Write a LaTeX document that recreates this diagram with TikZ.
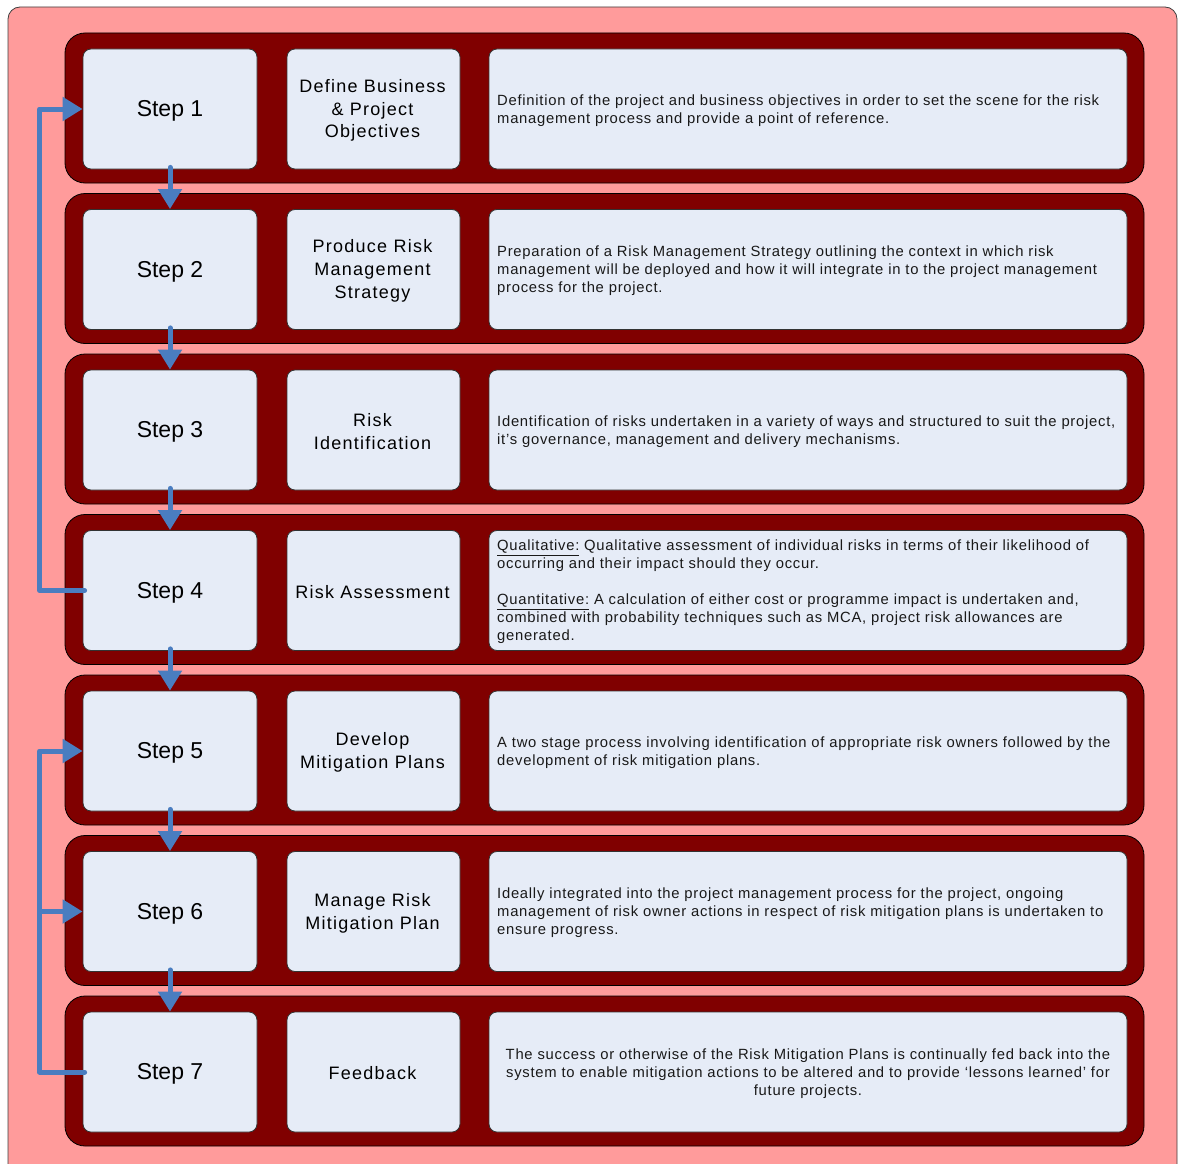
\documentclass[tikz,border=0pt]{standalone}
\usepackage{fontspec}
\setmainfont{Liberation Sans}
\newfontfamily\stepfont{Liberation Sans}
\newfontfamily\midfont[LetterSpace=7]{Liberation Sans}
\newfontfamily\descfont[LetterSpace=5]{Liberation Sans}
\usetikzlibrary{arrows.meta}
\definecolor{pinkbg}{RGB}{255,155,155}
\definecolor{rowred}{RGB}{128,0,0}
\definecolor{boxfill}{RGB}{230,236,247}
\definecolor{flowblue}{RGB}{74,125,192}
\tikzset{
  rowbox/.style={draw=black, line width=0.8pt, fill=rowred, rounded corners=20pt,
    minimum width=1079pt, minimum height=150pt, inner sep=0pt},
  panel/.style={draw=black!80, line width=0.8pt, fill=boxfill, rounded corners=8pt,
    minimum height=120pt, inner sep=0pt},
  stepbox/.style={panel, minimum width=174pt},
  midbox/.style={panel, minimum width=173pt},
  descbox/.style={panel, minimum width=638pt},
  steptext/.style={inner sep=0pt, font=\stepfont\fontsize{23}{28}\selectfont},
  midtext/.style={inner sep=0pt, align=center, font=\midfont\fontsize{18}{22.8}\selectfont},
  desc/.style={inner sep=0pt, align=left, text=black!90,
    font=\descfont\fontsize{14.8}{18}\selectfont},
  flow/.style={draw=flowblue, line width=5pt, line cap=round, line join=round,
    -{Triangle[width=23pt,length=20pt]}}
}
\begin{document}
\begin{tikzpicture}[x=1pt,y=-1pt]
\useasboundingbox (0,0) rectangle (1178,1164);
\begin{scope}
\clip (0,0) rectangle (1178,1164);
\draw[fill=pinkbg, draw=black!75, line width=0.8pt, rounded corners=12pt] (8,7) rectangle (1177,1200);
\end{scope}

% rows
\node[rowbox] (r1) at (604.5,108) {};
\node[rowbox] (r2) at (604.5,268.5) {};
\node[rowbox] (r3) at (604.5,429) {};
\node[rowbox] (r4) at (604.5,589.5) {};
\node[rowbox] (r5) at (604.5,750) {};
\node[rowbox] (r6) at (604.5,910.5) {};
\node[rowbox] (r7) at (604.5,1071) {};

% step boxes
\node[stepbox] (s1) at (170,109) {};
\node[stepbox] (s2) at (170,269.5) {};
\node[stepbox] (s3) at (170,430) {};
\node[stepbox] (s4) at (170,590.5) {};
\node[stepbox] (s5) at (170,751) {};
\node[stepbox] (s6) at (170,911.5) {};
\node[stepbox] (s7) at (170,1072) {};
\node[steptext] (s1l) at (170,111) {Step 1};
\node[steptext] (s2l) at (170,271.5) {Step 2};
\node[steptext] (s3l) at (170,432) {Step 3};
\node[steptext] (s4l) at (170,592.5) {Step 4};
\node[steptext] (s5l) at (170,753) {Step 5};
\node[steptext] (s6l) at (170,913.5) {Step 6};
\node[steptext] (s7l) at (170,1074) {Step 7};

% middle boxes
\node[midbox] (m1) at (373.5,109) {};
\node[midbox] (m2) at (373.5,269.5) {};
\node[midbox] (m3) at (373.5,430) {};
\node[midbox] (m4) at (373.5,590.5) {};
\node[midbox] (m5) at (373.5,751) {};
\node[midbox] (m6) at (373.5,911.5) {};
\node[midbox] (m7) at (373.5,1072) {};
\node[midtext] (m1l) at (372.5,110.5) {Define Business\\\& Project\\Objectives};
\node[midtext] (m2l) at (372.5,271) {Produce Risk\\Management\\Strategy};
\node[midtext] (m3l) at (372.5,431.5) {Risk\\Identification};
\node[midtext] (m4l) at (372.5,592) {Risk Assessment};
\node[midtext] (m5l) at (372.5,752.5) {Develop\\Mitigation Plans};
\node[midtext] (m6l) at (372.5,913) {Manage Risk\\Mitigation Plan};
\node[midtext] (m7l) at (372.5,1073.5) {Feedback};

% description boxes
\node[descbox] (d1) at (808,109) {};
\node[descbox] (d2) at (808,269.5) {};
\node[descbox] (d3) at (808,430) {};
\node[descbox] (d4) at (808,590.5) {};
\node[descbox] (d5) at (808,751) {};
\node[descbox] (d6) at (808,911.5) {};
\node[descbox] (d7) at (808,1072) {};

\node[desc, anchor=west] (t1) at (497,110.5) {Definition of the project and business objectives in order to set the scene for the risk\\management process and provide a point of reference.};
\node[desc, anchor=west] (t2) at (497,271) {Preparation of a Risk Management Strategy outlining the context in which risk\\management will be deployed and how it will integrate in to the project management\\process for the project.};
\node[desc, anchor=west] (t3) at (497,431.5) {Identification of risks undertaken in a variety of ways and structured to suit the project,\\it’s governance, management and delivery mechanisms.};
\node[desc, anchor=west] (t4) at (497,592) {\underline{Qualitative:} Qualitative assessment of individual risks in terms of their likelihood of\\occurring and their impact should they occur.\\[18pt]\underline{Quantitative:} A calculation of either cost or programme impact is undertaken and,\\combined with probability techniques such as MCA, project risk allowances are\\generated.};
\node[desc, anchor=west] (t5) at (497,752.5) {A two stage process involving identification of appropriate risk owners followed by the\\development of risk mitigation plans.};
\node[desc, anchor=west] (t6) at (497,913) {Ideally integrated into the project management process for the project, ongoing\\management of risk owner actions in respect of risk mitigation plans is undertaken to\\ensure progress.};
\node[desc, align=center] (t7) at (808,1073.5) {The success or otherwise of the Risk Mitigation Plans is continually fed back into the\\system to enable mitigation actions to be altered and to provide ‘lessons learned’ for\\future projects.};

% down arrows
\draw[flow] ([yshift=2pt]s1.south) -- (s2.north);
\draw[flow] ([yshift=2pt]s2.south) -- (s3.north);
\draw[flow] ([yshift=2pt]s3.south) -- (s4.north);
\draw[flow] ([yshift=2pt]s4.south) -- (s5.north);
\draw[flow] ([yshift=2pt]s5.south) -- (s6.north);
\draw[flow] ([yshift=2pt]s6.south) -- (s7.north);

% feedback loops
\draw[flow] ([xshift=2pt]s4.west) -- ++(-45,0) |- (s1.west);
\draw[flow] ([xshift=2pt]s7.west) -- ++(-45,0) |- (s5.west);
\coordinate (j6) at (40,911.5);
\draw[flow] (j6) -- (s6.west);
\end{tikzpicture}
\end{document}
